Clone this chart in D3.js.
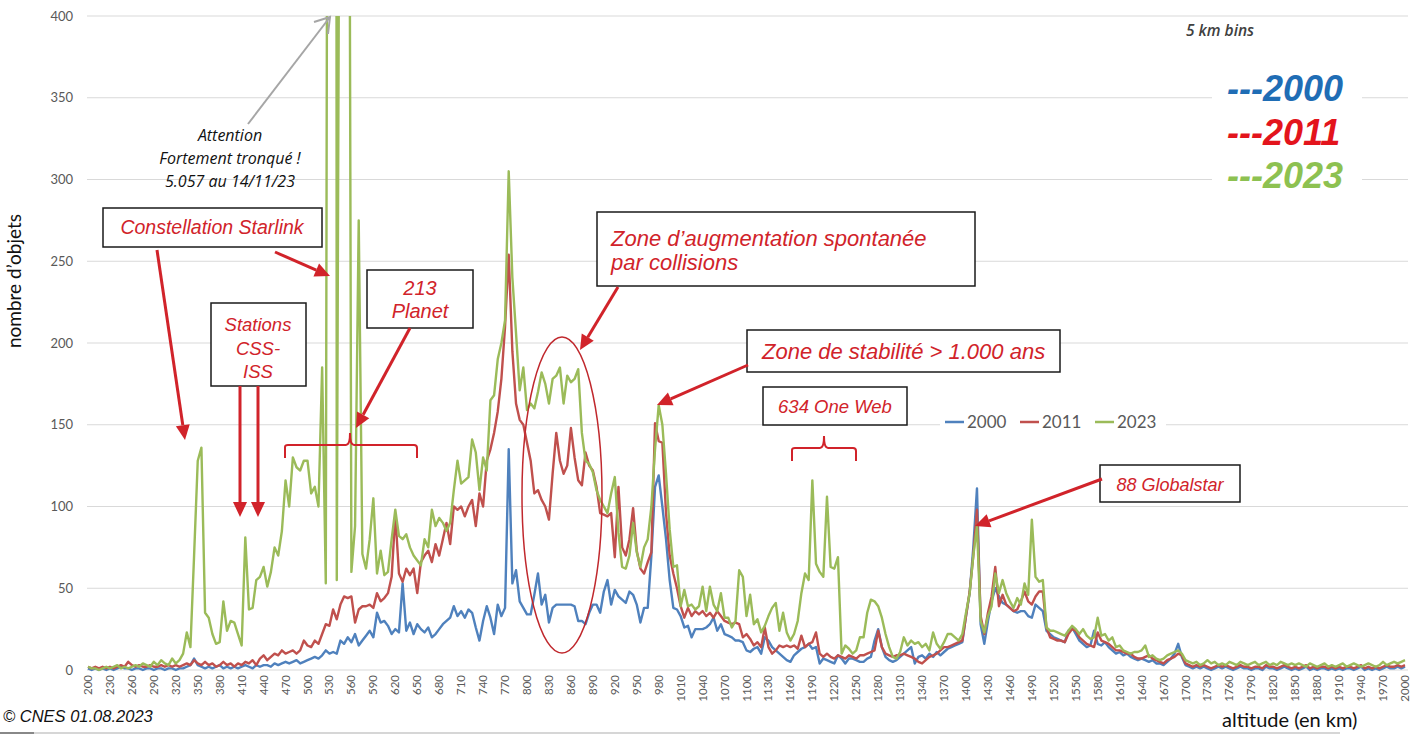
<!DOCTYPE html>
<html>
<head>
<meta charset="utf-8">
<script src="https://cdn.jsdelivr.net/npm/d3@7"></script>
<style>
  body { margin: 0; background: #fff; }
  svg { display: block; }
  .tick-label { font-family: Lato, "Open Sans", sans-serif; fill: #595959; }
  .note { font-family: "Liberation Sans", Arial, sans-serif; font-style: italic; fill: #d1232a; }
</style>
</head>
<body>
<script>
// altitude bins, 5 km wide
var altitudes = d3.range(200, 2001, 5);

// number of objects per bin, one row = 50 km
var s2000 = [
  1,0,1,0,1,0,1,0,1,2,  1,1,0,1,1,0,1,1,0,1,
  1,0,1,1,0,1,1,2,3,7,  3,2,1,2,1,2,3,1,2,1,
  2,1,2,3,2,1,3,2,3,3,  2,4,3,4,5,4,5,6,4,5,
  6,7,8,7,9,12,10,11,10,18,  16,20,17,22,15,18,21,24,20,35,
  29,30,27,22,25,23,53,24,29,22,  28,25,23,26,20,22,25,28,30,32,
  39,33,36,32,37,35,26,18,30,39,  32,22,40,33,38,135,53,61,42,38,
  34,34,46,59,40,46,29,38,40,40,  40,40,40,39,30,30,28,35,40,40,
  35,48,55,40,49,45,43,41,48,46,  40,29,38,38,70,112,119,100,80,55,
  38,37,33,26,27,20,25,25,25,26,  28,32,24,28,22,21,20,18,18,17,
  12,11,13,14,10,20,18,14,12,10,  8,6,5,9,11,13,14,16,13,14,
  4,7,6,5,4,9,7,4,7,7,  6,5,5,7,8,18,25,14,8,6,
  5,6,8,10,12,14,4,8,9,7,  10,8,11,9,11,13,14,15,16,17,
  33,47,75,111,28,16,30,42,50,45,  41,40,38,36,35,36,36,33,32,40,
  38,36,24,22,20,19,18,17,24,26,  22,18,16,14,15,24,16,15,17,14,
  12,10,11,9,10,8,7,6,7,6,  5,6,4,4,3,5,7,10,16,8,
  3,2,1,2,1,2,1,0,1,2,  1,2,1,0,1,2,1,1,0,1,
  1,0,2,1,1,0,1,2,1,0,  1,0,1,2,0,1,0,1,1,0,
  1,0,1,0,1,1,0,1,2,0,  1,0,1,0,1,2,1,1,2,1,
  2
];
var s2011 = [
  2,1,2,1,2,1,2,1,2,3,  2,5,3,2,3,2,2,3,2,2,
  3,2,3,2,3,2,3,4,3,6,  4,3,5,3,4,2,3,5,3,4,
  2,4,3,5,4,6,3,7,9,6,  8,10,9,12,10,11,12,10,12,18,
  15,14,18,16,22,28,27,37,31,40,  45,44,45,29,37,39,39,40,38,47,
  42,44,47,57,95,59,54,62,58,62,  47,66,70,73,66,77,70,80,90,77,
  100,98,100,94,100,104,88,108,100,128,  135,145,158,178,210,254,195,163,153,150,
  139,128,108,110,104,100,92,120,145,128,  120,125,148,130,116,113,133,125,122,112,
  96,95,94,96,69,112,75,70,80,99,  73,62,59,66,72,151,140,139,96,70,
  59,50,39,32,38,33,36,34,36,33,  35,32,36,33,30,29,28,29,28,20,
  22,19,15,17,14,26,14,10,12,15,  14,15,14,15,13,21,14,16,17,23,
  10,8,10,8,7,9,8,7,9,8,  7,9,9,10,11,12,24,14,10,9,
  8,9,9,10,9,8,7,5,4,6,  8,9,10,12,14,14,15,16,17,18,
  33,48,70,98,33,22,35,45,63,39,  46,40,38,36,37,42,48,42,40,45,
  48,48,26,20,19,18,18,17,22,25,  24,20,18,16,15,14,23,18,17,16,
  14,12,12,11,10,10,8,7,7,8,  9,7,6,5,4,6,7,8,10,9,
  4,3,2,3,2,3,2,1,2,3,  2,3,2,1,2,3,2,2,1,2,
  2,1,3,2,2,1,2,3,2,1,  2,1,2,3,1,2,1,2,2,1,
  2,1,2,1,2,2,1,2,3,1,  2,1,2,1,2,3,2,2,3,2,
  3
];
var s2023 = [
  2,1,1,0,1,2,1,2,3,1,  2,1,2,3,2,4,3,2,5,3,
  6,4,3,7,4,6,10,23,14,70,  128,136,35,32,22,16,17,42,24,30,
  29,22,15,81,37,38,55,57,63,51,  60,75,70,85,116,100,130,124,122,128,
  128,108,112,100,185,53,1200,5057,55,700,  1800,900,60,88,275,71,62,80,105,59,
  73,58,60,80,98,82,80,83,75,70,  67,64,80,75,98,88,93,90,85,90,
  110,128,114,116,118,141,133,110,130,122,  165,168,190,200,214,305,240,206,171,185,
  159,163,160,170,182,175,163,178,180,185,  163,180,176,178,184,145,128,126,121,110,
  104,100,96,108,118,84,63,62,70,90,  72,63,75,80,100,135,162,150,120,86,
  63,64,39,49,39,40,37,39,51,36,  51,40,36,47,32,32,26,30,61,57,
  33,46,28,31,23,27,33,38,41,24,  35,23,18,22,30,47,59,55,116,65,
  60,57,106,63,62,69,10,15,13,10,  12,20,20,35,43,42,39,32,22,14,
  8,7,11,20,15,18,16,17,14,16,  12,23,16,13,17,22,22,20,18,22,
  35,47,70,88,30,23,33,39,59,47,  55,47,42,38,44,40,53,46,92,57,
  54,55,26,24,24,23,22,21,24,27,  25,22,25,21,19,20,32,21,22,18,
  20,14,15,12,11,10,11,11,12,15,  8,9,7,6,7,9,10,11,12,10,
  6,5,4,5,3,4,6,4,5,3,  4,3,5,4,3,5,4,3,4,5,
  3,4,5,3,4,3,5,4,3,4,  3,4,3,2,4,3,2,3,4,2,
  3,2,3,4,2,3,4,3,2,3,  4,3,2,3,5,3,4,5,4,5,
  6
];

var seriesNames = ["2000", "2011", "2023"];
var seriesColors = ["#4f81bd", "#c0504d", "#9bbb59"];
var yTicks = [0, 50, 100, 150, 200, 250, 300, 350, 400];
var xTicks = d3.range(200, 2001, 30);

var width = 1423, height = 742;

var svg = d3.select("body").append("svg")
  .attr("width", width)
  .attr("height", height);

var x = d3.scaleLinear().domain([200, 2000]).range([88, 1405]);
var y = d3.scaleLinear().domain([0, 400]).range([670, 16]);

// gridlines
svg.append("g").selectAll("line")
  .data(yTicks)
  .join("line")
  .attr("x1", 87).attr("x2", 1408)
  .attr("y1", d => y(d)).attr("y2", d => y(d))
  .attr("stroke", "#d9d9d9")
  .attr("stroke-width", 1);

// y labels
svg.append("g").selectAll("text")
  .data(yTicks)
  .join("text")
  .attr("class", "tick-label")
  .attr("x", 73)
  .attr("y", d => y(d) + 4.5)
  .attr("text-anchor", "end")
  .attr("font-size", 13)
  .text(d => d);

// x labels (rotated)
svg.append("g").selectAll("text")
  .data(xTicks)
  .join("text")
  .attr("class", "tick-label")
  .attr("transform", d => "translate(" + x(d) + ",675) rotate(-90)")
  .attr("dy", "0.35em")
  .attr("text-anchor", "end")
  .attr("font-size", 11.5)
  .text(d => d);

// white block behind the big legend hides the gridlines
svg.append("rect")
  .attr("x", 1212).attr("y", 62).attr("width", 150).attr("height", 134)
  .attr("fill", "#fff");

// the lines, clipped at 400
svg.append("clipPath").attr("id", "plot")
  .append("rect").attr("x", 80).attr("y", 16).attr("width", 1335).attr("height", 660);

var line = d3.line()
  .x((d, i) => x(altitudes[i]))
  .y(d => y(d));

var series = [s2000, s2011, s2023];
svg.append("g").attr("clip-path", "url(#plot)")
  .selectAll("path")
  .data(series)
  .join("path")
  .attr("d", line)
  .attr("fill", "none")
  .attr("stroke", (d, i) => seriesColors[i])
  .attr("stroke-width", 2.4)
  .attr("stroke-linejoin", "round");

// axis titles
svg.append("text")
  .attr("transform", "translate(21,281) rotate(-90)")
  .attr("text-anchor", "middle")
  .attr("font-family", "Lato, sans-serif")
  .attr("font-size", 19)
  .attr("fill", "#111")
  .text("nombre d’objets");

svg.append("text")
  .attr("x", 1222).attr("y", 727)
  .attr("font-family", "Lato, sans-serif")
  .attr("font-size", 20)
  .attr("fill", "#111")
  .text("altitude (en km)");

svg.append("text")
  .attr("x", 3).attr("y", 722)
  .attr("font-family", "Liberation Sans, Arial, sans-serif")
  .attr("font-style", "italic")
  .attr("font-size", 16.5)
  .attr("fill", "#111")
  .text("© CNES 01.08.2023");

svg.append("line")
  .attr("x1", 0).attr("x2", 1340).attr("y1", 733).attr("y2", 733)
  .attr("stroke", "#c8c8c8").attr("stroke-width", 1.5);
svg.append("line")
  .attr("x1", 0).attr("x2", 34).attr("y1", 733).attr("y2", 733)
  .attr("stroke", "#888").attr("stroke-width", 2);

// excel legend
var legend = svg.append("g");
legend.append("rect").attr("x", 940).attr("y", 412).attr("width", 226).attr("height", 22).attr("fill", "#fff");
var legX = [945, 1020, 1095];
seriesNames.forEach(function(name, i) {
  legend.append("line")
    .attr("x1", legX[i]).attr("x2", legX[i] + 19)
    .attr("y1", 422).attr("y2", 422)
    .attr("stroke", seriesColors[i]).attr("stroke-width", 2.5);
  legend.append("text")
    .attr("x", legX[i] + 22).attr("y", 428)
    .attr("font-family", "Lato, sans-serif")
    .attr("font-size", 17)
    .attr("fill", "#595959")
    .text(name);
});

// big legend
var bigColors = ["#1f6db5", "#e3141c", "#8dc151"];
var bigY = [101, 145, 188];
seriesNames.forEach(function(name, i) {
  svg.append("text")
    .attr("x", 1227).attr("y", bigY[i])
    .attr("font-family", "Liberation Sans, Arial, sans-serif")
    .attr("font-style", "italic")
    .attr("font-weight", "bold")
    .attr("font-size", 36)
    .attr("fill", bigColors[i])
    .text("---" + name);
});

svg.append("text")
  .attr("x", 1186).attr("y", 36)
  .attr("font-family", "Open Sans, sans-serif")
  .attr("font-style", "italic")
  .attr("font-weight", 600)
  .attr("font-size", 15.5)
  .attr("fill", "#404040")
  .text("5 km bins");

// annotations
var red = "#d1232a";

function arrow(x1, y1, x2, y2) {
  var a = Math.atan2(y2 - y1, x2 - x1);
  var L = 15, W = 7;
  var bx = x2 - L * Math.cos(a), by = y2 - L * Math.sin(a);
  var px = -Math.sin(a) * W, py = Math.cos(a) * W;
  svg.append("line")
    .attr("x1", x1).attr("y1", y1).attr("x2", bx).attr("y2", by)
    .attr("stroke", red).attr("stroke-width", 3);
  svg.append("polygon")
    .attr("points", [[x2, y2], [bx + px, by + py], [bx - px, by - py]].join(" "))
    .attr("fill", red);
}

function box(x0, y0, w, h) {
  svg.append("rect")
    .attr("x", x0).attr("y", y0).attr("width", w).attr("height", h)
    .attr("fill", "#fff").attr("stroke", "#1a1a1a").attr("stroke-width", 1.5);
}

function note(tx, ty, str, size, anchor) {
  svg.append("text")
    .attr("class", "note")
    .attr("x", tx).attr("y", ty)
    .attr("font-size", size)
    .attr("text-anchor", anchor || "middle")
    .text(str);
}

// attention text + grey arrow
["Attention", "Fortement tronqué !", "5.057 au 14/11/23"].forEach(function(t, i) {
  svg.append("text")
    .attr("x", 230).attr("y", 141 + i * 23)
    .attr("text-anchor", "middle")
    .attr("font-family", "Open Sans, sans-serif")
    .attr("font-style", "italic")
    .attr("font-size", 16)
    .attr("fill", "#111")
    .text(t);
});
svg.append("line").attr("x1", 248).attr("y1", 124).attr("x2", 330).attr("y2", 17)
  .attr("stroke", "#a6a6a6").attr("stroke-width", 2);
svg.append("path").attr("d", "M314,22 L330,17 L328,34")
  .attr("fill", "none").attr("stroke", "#a6a6a6").attr("stroke-width", 2);

// starlink
box(103, 208, 219, 39);
note(212, 234, "Constellation Starlink", 19.5);
arrow(157, 250, 185, 440);
arrow(275, 252, 330, 276);

// stations
box(211, 303, 95, 83);
note(258, 331, "Stations", 18.5);
note(258, 355, "CSS-", 18.5);
note(258, 378, "ISS", 18.5);
arrow(240, 386, 240, 517);
arrow(258, 386, 258, 517);

// planet
box(367, 270, 106, 58);
note(420, 295, "213", 20);
note(420, 318, "Planet", 20);
arrow(410, 328, 356, 428);
svg.append("path")
  .attr("d", "M285,458 L285,447 Q285,445 288,445 L346,445 Q350,445 350,433 Q350,445 354,445 L414,445 Q417,445 417,448 L417,458")
  .attr("fill", "none").attr("stroke", red).attr("stroke-width", 2);

// zone augmentation
box(597, 212, 378, 74);
note(611, 246, "Zone d’augmentation spontanée", 22, "start");
note(611, 270, "par collisions", 22, "start");
arrow(618, 287, 580, 350);
svg.append("ellipse")
  .attr("cx", 562).attr("cy", 495).attr("rx", 40).attr("ry", 158)
  .attr("fill", "none").attr("stroke", "#c0282d").attr("stroke-width", 1.5);

// stabilite
box(747, 330, 313, 42);
note(762, 359, "Zone de stabilité > 1.000 ans", 22, "start");
arrow(748, 365, 657, 405);

// one web
box(763, 387, 144, 38);
note(835, 413, "634 One Web", 18.5);
svg.append("path")
  .attr("d", "M792,461 L792,450 Q792,448 795,448 L820,448 Q824,448 824,436 Q824,448 828,448 L853,448 Q856,448 856,451 L856,461")
  .attr("fill", "none").attr("stroke", red).attr("stroke-width", 2);

// globalstar
box(1100, 465, 140, 37);
note(1170, 491, "88 Globalstar", 18);
arrow(1102, 479, 975, 526);
</script>
</body>
</html>
